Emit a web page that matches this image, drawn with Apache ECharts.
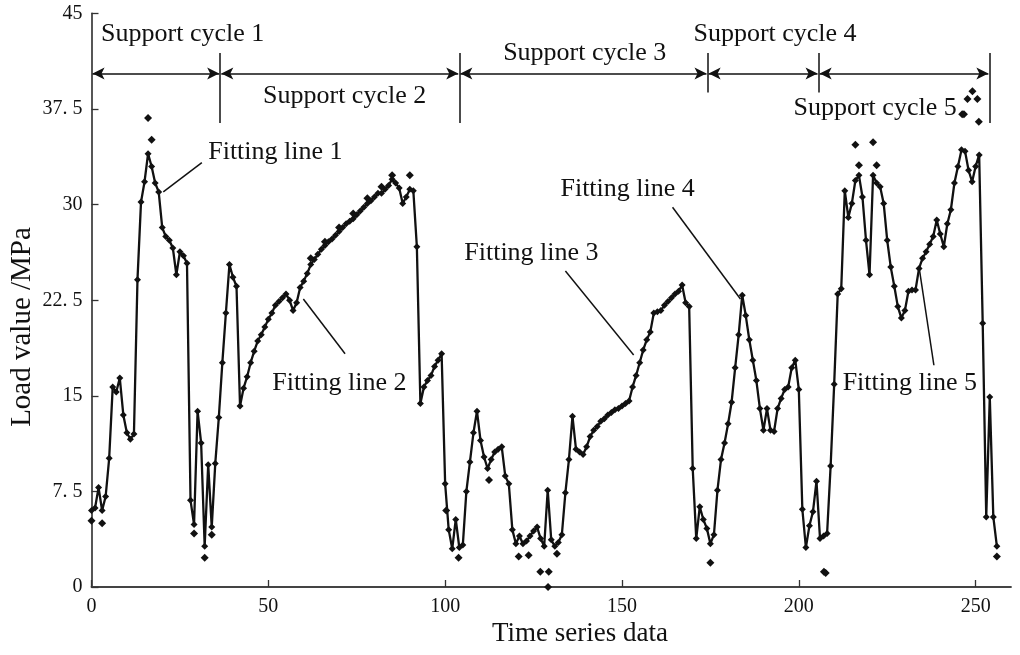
<!DOCTYPE html>
<html><head><meta charset="utf-8">
<script src="https://cdn.jsdelivr.net/npm/echarts/dist/echarts.min.js"></script>
<style>html,body{margin:0;padding:0;background:#fff}#c{width:1020px;height:655px}</style>
</head><body><div id="c"></div>
<script>
// Load value (MPa) per time step 0..256 (fitted line)
const loadValues = [
  6.0, 6.2, 7.8, 6.0, 7.1, 10.1, 15.7, 15.3, 16.4, 13.5,
  12.1, 11.6, 12.0, 24.1, 30.2, 31.8, 34.0, 33.0, 31.7, 31.0,
  28.2, 27.5, 27.2, 26.6, 24.5, 26.3, 26.0, 25.4, 6.8, 4.9,
  13.8, 11.3, 3.2, 9.6, 4.7, 9.7, 13.3, 17.6, 21.5, 25.3,
  24.3, 23.6, 14.2, 15.6, 16.5, 17.6, 18.5, 19.3, 19.8, 20.4,
  21.0, 21.5, 22.1, 22.4, 22.7, 23.0, 22.5, 21.7, 22.3, 23.5,
  24.0, 24.6, 25.3, 25.7, 26.1, 26.5, 26.8, 27.1, 27.3, 27.6,
  27.9, 28.2, 28.5, 28.7, 28.9, 29.2, 29.5, 29.8, 30.1, 30.3,
  30.6, 30.9, 30.9, 31.2, 31.5, 32.0, 31.7, 31.3, 30.1, 30.6,
  31.2, 31.1, 26.7, 14.4, 15.7, 16.2, 16.6, 17.3, 17.8, 18.3,
  8.1, 4.5, 3.0, 5.3, 3.1, 3.3, 7.5, 9.8, 12.1, 13.8,
  11.5, 10.2, 9.3, 10.0, 10.6, 10.8, 11.0, 8.7, 8.1, 4.5,
  3.4, 4.0, 3.4, 3.6, 4.0, 4.4, 4.7, 3.8, 3.2, 7.6,
  3.7, 3.2, 3.5, 4.1, 7.4, 10.0, 13.4, 10.8, 10.6, 10.4,
  11.0, 11.8, 12.3, 12.6, 13.0, 13.2, 13.5, 13.7, 13.9, 14.0,
  14.2, 14.4, 14.6, 15.7, 16.6, 17.6, 18.6, 19.4, 20.0, 21.5,
  21.6, 21.7, 22.1, 22.4, 22.7, 23.0, 23.2, 23.7, 22.3, 22.0,
  9.3, 3.8, 6.3, 5.3, 4.6, 3.4, 4.1, 7.6, 10.0, 11.3,
  12.8, 14.5, 17.2, 19.8, 22.9, 21.3, 19.4, 17.8, 16.2, 14.0,
  12.3, 14.0, 12.3, 12.2, 14.0, 14.8, 15.5, 15.7, 17.2, 17.8,
  15.5, 6.1, 3.1, 4.8, 5.9, 8.3, 3.8, 4.0, 4.2, 9.5,
  15.9, 23.0, 23.4, 31.1, 29.0, 30.1, 31.9, 32.3, 30.6, 27.2,
  24.5, 32.3, 31.7, 31.4, 30.1, 27.2, 25.1, 23.6, 22.0, 21.1,
  21.7, 23.2, 23.3, 23.3, 25.0, 25.8, 26.3, 26.9, 27.5, 28.8,
  27.7, 26.7, 28.5, 29.6, 31.7, 33.0, 34.3, 34.2, 32.7, 31.8,
  33.0, 33.9, 20.7, 5.5, 14.9, 5.5, 3.2
];
// Raw measured points deviating from the fitted line: [time, load]
const rawTime = [0, 3, 16, 17, 29, 32, 34, 62, 66, 70, 74, 78, 82, 85, 90, 100.3, 103.8, 112.4, 120.8, 123.6, 126.9, 129.1, 129.3, 131.6, 175, 207.1, 207.6, 216, 217, 221, 222, 246.2, 246.7, 247.7, 249.1, 250.5, 250.9, 256];
const rawLoad = [5.2, 5.0, 36.8, 35.1, 4.2, 2.3, 4.1, 25.8, 27.1, 28.2, 29.3, 30.5, 31.4, 32.3, 32.3, 6.0, 2.3, 8.4, 2.4, 2.5, 1.2, 0.0, 1.2, 2.6, 1.9, 1.2, 1.1, 34.7, 33.1, 34.9, 33.1, 37.1, 37.1, 38.3, 38.9, 38.3, 36.5, 2.4];
// Support cycle boundaries (time)
const cycleBounds = [0, 36.4, 104, 174.2, 205.6, 253.9];
const cycleNames = ['Support cycle 1', 'Support cycle 2', 'Support cycle 3', 'Support cycle 4', 'Support cycle 5'];
const fitNames = ['Fitting line 1', 'Fitting line 2', 'Fitting line 3', 'Fitting line 4', 'Fitting line 5'];
const xTicks = [0, 50, 100, 150, 200, 250];
const yTickLabels = ['0', '7. 5', '15', '22. 5', '30', '37. 5', '45'];

const FONT = '"Liberation Serif", "Times New Roman", serif';
const chart = echarts.init(document.getElementById('c'), null, {renderer: 'canvas'});

const lineData = loadValues.map((v, i) => [i, v]);
const rawData = rawTime.map((t, i) => [t, rawLoad[i]]);

// annotation geometry (data coordinates)
const arrowY = 40.3;
const sepTall = [36.4, 41.9];
const sepShort = [38.8, 41.9];
const markLines = [];
for (let i = 1; i < cycleBounds.length; i++) {
  const r = (i === 3 || i === 4) ? sepShort : sepTall;
  markLines.push([{coord: [cycleBounds[i], r[0]], symbol: 'none'}, {coord: [cycleBounds[i], r[1]], symbol: 'none'}]);
}
for (let i = 0; i < cycleBounds.length - 1; i++) {
  markLines.push([{coord: [cycleBounds[i] + 0.3, arrowY], symbol: 'arrow'}, {coord: [cycleBounds[i + 1] - 0.3, arrowY], symbol: 'arrow'}]);
}
const leaders = [
  [[20.3, 31.0], [31.2, 33.3]],
  [[59.9, 22.6], [71.7, 18.3]],
  [[134.0, 24.8], [153.3, 18.2]],
  [[164.3, 29.8], [183.5, 22.6]],
  [[234.0, 25.1], [238.2, 17.4]]
];
leaders.forEach(l => markLines.push([{coord: l[0], symbol: 'none'}, {coord: l[1], symbol: 'none'}]));

const cycleTextPos = [[2.7, 43.4], [48.5, 38.5], [116.4, 41.9], [170.2, 43.4], [198.5, 37.6]];
const fitTextPos = [[33.0, 34.1], [51.1, 16.0], [105.4, 26.2], [132.6, 31.2], [212.4, 16.0]];

chart.setOption({
  animation: false,
  backgroundColor: '#fff',
  grid: {left: 91.5, right: 9, top: 13.5, bottom: 68, containLabel: false, outerBoundsMode: 'none'},
  xAxis: {
    type: 'value', min: 0, max: 260, interval: 50,
    axisLine: {show: true, lineStyle: {color: '#444', width: 1.8}},
    axisTick: {show: true, inside: true, length: 7, customValues: xTicks, lineStyle: {color: '#333', width: 1.3}},
    axisLabel: {color: '#111', fontFamily: FONT, fontSize: 20, margin: 10, customValues: xTicks,
      formatter: v => (xTicks.indexOf(v) >= 0 ? String(v) : '')},
    splitLine: {show: false}
  },
  yAxis: {
    type: 'value', min: 0, max: 45, interval: 7.5,
    axisLine: {show: true, lineStyle: {color: '#444', width: 1.8}},
    axisTick: {show: true, inside: true, length: 7, lineStyle: {color: '#333', width: 1.3}},
    axisLabel: {color: '#111', fontFamily: FONT, fontSize: 20, margin: 9,
      formatter: v => yTickLabels[Math.round(v / 7.5)]},
    splitLine: {show: false}
  },
  series: [
    {
      type: 'line', data: lineData, symbol: 'diamond', symbolSize: 7, showAllSymbol: true,
      lineStyle: {color: '#111', width: 2.3}, itemStyle: {color: '#111'},
      emphasis: {disabled: true}, silent: true, z: 3,
      markLine: {silent: true, symbolSize: [9, 12], animation: false,
        lineStyle: {color: '#111', width: 1.5, type: 'solid'},
        label: {show: false}, emphasis: {disabled: true},
        data: markLines}
    },
    {
      type: 'scatter', data: rawData, symbol: 'diamond', symbolSize: 8,
      itemStyle: {color: '#111', opacity: 1}, silent: true, z: 4
    }
  ]
});

function px(p) { return chart.convertToPixel({gridIndex: 0}, p); }
const graphics = [];
cycleNames.forEach((n, i) => {
  const p = px(cycleTextPos[i]);
  graphics.push({type: 'text', x: p[0], y: p[1], style: {text: n, font: '26px ' + FONT, fill: '#111', textVerticalAlign: 'middle', verticalAlign: 'middle'}});
});
fitNames.forEach((n, i) => {
  const p = px(fitTextPos[i]);
  graphics.push({type: 'text', x: p[0], y: p[1], style: {text: n, font: '26px ' + FONT, fill: '#111', textVerticalAlign: 'middle', verticalAlign: 'middle'}});
});
graphics.push({type: 'text', x: 580, y: 634, style: {text: 'Time series data', font: '27px ' + FONT, fill: '#111', textAlign: 'center', align: 'center', textVerticalAlign: 'middle', verticalAlign: 'middle'}});
graphics.push({type: 'text', x: 22, y: 327, rotation: Math.PI / 2, style: {text: 'Load value /MPa', font: '29px ' + FONT, fill: '#111', textAlign: 'center', align: 'center', textVerticalAlign: 'middle', verticalAlign: 'middle'}});
chart.setOption({graphic: graphics});
</script>
</body></html>
